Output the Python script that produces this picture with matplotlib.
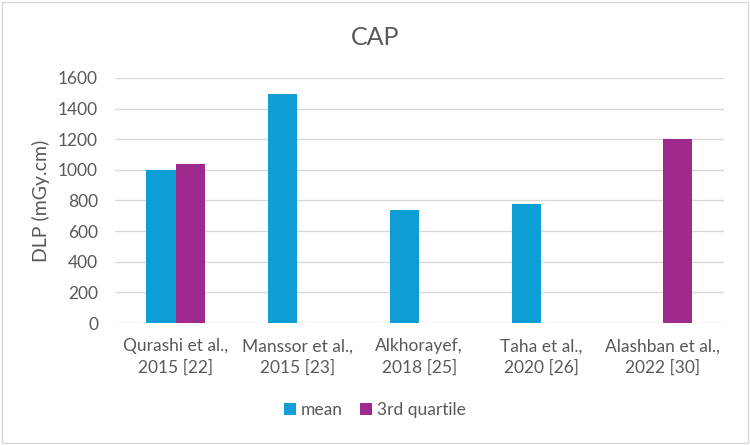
import numpy as np
import matplotlib.pyplot as plt
from matplotlib.patches import Rectangle

categories = ['Qurashi et al.,\n2015 [22]', 'Manssor et al.,\n2015 [23]', 'Alkhorayef,\n2018 [25]',
              'Taha et al.,\n2020 [26]', 'Alashban et al.,\n2022 [30]']
mean_vals = [1000, 1494, 740, 780, 0]
q3_vals = [1040, 0, 0, 0, 1200]

plt.rcParams['font.family'] = ['Lato', 'DejaVu Sans']
text_color = '#595959'

fig = plt.figure(figsize=(7.5, 4.45), dpi=100)
ax = fig.add_axes([0.153, 0.274, 0.812, 0.551])

x = np.arange(len(categories))
w = 0.24
ax.bar(x - w / 2, mean_vals, w, color='#0E9ED6', label='mean', zorder=3)
ax.bar(x + w / 2, q3_vals, w, color='#A0298E', label='3rd quartile', zorder=3)

ax.set_ylim(0, 1600)
ax.set_xlim(-0.5, len(categories) - 0.5)
ax.set_yticks(range(0, 1601, 200))
ax.set_xticks(x)
ax.set_xticklabels(categories, fontsize=12.5, color=text_color, linespacing=1.4)
ax.tick_params(axis='y', labelsize=12.5, labelcolor=text_color, length=0, pad=12)
ax.tick_params(axis='x', length=0, pad=11)
ax.grid(axis='y', color='#D9D9D9', linewidth=1, zorder=0)
for s in ax.spines.values():
    s.set_visible(False)

ax.set_ylabel('DLP (mGy.cm)', fontsize=14, color=text_color, labelpad=6)
fig.text(0.5, 0.915, 'CAP', ha='center', va='center', fontsize=18, color=text_color)

fig.legend(loc='center', bbox_to_anchor=(0.5, 0.078), ncol=2, frameon=False,
           fontsize=12.5, labelcolor=text_color, handlelength=0.65, handleheight=0.65,
           handletextpad=0.3, columnspacing=1.0)

fig.patches.append(Rectangle((0.003, 0.005), 0.994, 0.99, transform=fig.transFigure,
                             fill=False, edgecolor='#D9D9D9', linewidth=1))

fig.savefig('out.png', dpi=100)
